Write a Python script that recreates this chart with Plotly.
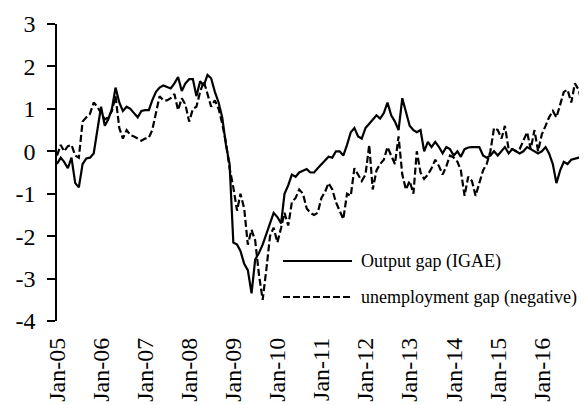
import pandas as pd
import plotly.graph_objects as go

months = pd.date_range("2005-01-01", periods=145, freq="MS")

output_gap = [
    -0.3, -0.15, -0.25, -0.4, -0.15, -0.75, -0.85, -0.3, -0.17, -0.15, -0.05, 0.45,
    1.05, 0.6, 0.75, 1.0, 1.5, 1.15, 0.95, 1.05, 1.0, 0.9, 0.8, 0.95,
    0.97, 0.97, 1.2, 1.4, 1.5, 1.55, 1.52, 1.48, 1.6, 1.75, 1.42, 1.6,
    1.7, 1.7, 1.3, 1.65, 1.55, 1.8, 1.72, 1.4, 1.15, 0.8, 0.15, -0.3,
    -2.15, -2.2, -2.35, -2.65, -2.8, -3.35, -2.55, -2.4, -2.2, -1.95, -1.7, -1.45,
    -1.55, -1.7, -1.0, -0.8, -0.55, -0.6, -0.5, -0.45, -0.42, -0.5, -0.5, -0.4,
    -0.3, -0.2, -0.13, -0.15, 0.0, 0.0, -0.1, 0.15, 0.45, 0.55, 0.35, 0.3,
    0.55, 0.65, 0.75, 0.85, 0.77, 0.9, 1.15, 0.85, 0.7, 0.5, 1.25, 0.9,
    0.6, 0.5, 0.45, 0.5, 0.0, 0.22, 0.1, 0.22, 0.1, -0.05, 0.1, 0.05,
    -0.1, 0.0, -0.13, 0.05, 0.09, 0.1, 0.1, 0.1, -0.1, -0.15, -0.1, 0.0,
    -0.1, 0.0, 0.1, -0.05, 0.05, 0.0, -0.05, 0.0, 0.1, 0.05, 0.0, -0.05,
    0.0, 0.1, -0.05, -0.3, -0.75, -0.45, -0.25, -0.3, -0.2, -0.18, -0.15, -0.12,
    -0.02,
]

unemployment_gap_neg = [
    -0.1, 0.15, 0.0, 0.12, 0.15, -0.1, -0.15, 0.7, 0.8, 0.88, 1.15, 1.05,
    0.9, 0.75, 0.8, 0.95, 1.3, 0.55, 0.3, 0.5, 0.38, 0.35, 0.3, 0.25,
    0.3, 0.32, 0.5, 0.95, 1.3, 1.2, 1.2, 1.25, 1.35, 0.97, 1.25, 1.1,
    0.7, 1.0, 1.05, 1.4, 1.65, 1.35, 1.05, 1.2, 1.0, 0.65, 0.2, -0.4,
    -0.85, -1.4, -1.0, -1.35, -2.2, -1.85, -2.1, -2.9, -3.5, -2.8, -2.0, -1.8,
    -2.15, -1.8, -1.45, -1.75, -1.2, -1.1, -0.9, -1.0, -1.35, -1.45, -1.5, -1.45,
    -1.1, -0.95, -0.75, -0.9, -1.2, -1.4, -1.6, -1.0, -1.05, -0.4, -0.55, -0.7,
    -0.55, 0.15, -0.9, -0.45, -0.3, -0.2, 0.1, -0.1, -0.3, 0.35, -0.55, -0.9,
    -0.7, -1.0, 0.0, -0.5, -0.65, -0.55, -0.4, -0.2, -0.35, -0.55, -0.35, -0.1,
    -0.15, -0.25, -0.45, -1.05, -0.6, -0.7, -1.05, -0.75, -0.45, -0.3, 0.0, 0.55,
    0.5, 0.3, 0.6, 0.05, 0.05, 0.0, 0.05, 0.25, 0.45, 0.05, 0.5, 0.0,
    0.4, 0.6, 0.8, 0.95, 0.8, 1.1, 1.4, 1.45, 1.15, 1.6, 1.45, 1.1,
    1.0,
]

y_tickvals = [3, 2, 1, 0, -1, -2, -3, -4]
y_ticktext = ["3", "2", "1", "0", "-1", "-2", "-3", "-4"]
series_names = ["Output gap (IGAE)", "unemployment gap (negative)"]

FONT = "Liberation Serif, Times New Roman, serif"
x_range = ["2005-01-01", "2017-01-01"]
y_range = [-4, 3]

fig = go.Figure()
fig.add_trace(go.Scatter(x=months, y=output_gap, mode="lines", name=series_names[0],
                         line=dict(color="black", width=2.2), showlegend=False))
fig.add_trace(go.Scatter(x=months, y=unemployment_gap_neg, mode="lines", name=series_names[1],
                         line=dict(color="black", width=2.2, dash="7px,3px"), showlegend=False))

# page body has an 8px default margin, so the figure is sized to fill the rest
fig.update_layout(
    width=579, height=397,
    margin=dict(l=49, r=1, t=16, b=84),
    paper_bgcolor="white", plot_bgcolor="white",
    font=dict(family=FONT, color="black", size=24),
    xaxis=dict(type="date", range=x_range, tick0="2005-01-01", dtick="M12",
               tickformat="%b-%y", tickangle=-90, showgrid=False, zeroline=False,
               showline=False, ticks="", ticklabelstandoff=11,
               tickfont=dict(family=FONT, size=24, color="black")),
    xaxis2=dict(type="date", range=x_range, overlaying="x", anchor="free",
                position=(0 - y_range[0]) / (y_range[1] - y_range[0]),
                tick0="2005-01-01", dtick="M12", showticklabels=False,
                showgrid=False, zeroline=False, showline=True,
                linecolor="#333333", linewidth=1.5, ticks="outside",
                ticklen=8, tickwidth=1.5, tickcolor="#333333"),
    yaxis=dict(range=y_range, tickvals=y_tickvals, ticktext=y_ticktext,
               showgrid=False, zeroline=False, showline=True, linecolor="black",
               linewidth=1.5, ticks="outside", ticklen=8, tickwidth=1.5,
               tickcolor="black", ticklabelstandoff=7,
               tickfont=dict(family=FONT, size=24, color="black")),
)

# manual legend
leg_x0, leg_x1, leg_tx = 0.4272, 0.5577, 0.572
leg_ys = [0.2020, 0.0808]
dashes = ["solid", "7px,3px"]
for name, ly, dsh in zip(series_names, leg_ys, dashes):
    fig.add_shape(type="line", xref="paper", yref="paper", x0=leg_x0, x1=leg_x1,
                  y0=ly, y1=ly, line=dict(color="black", width=2, dash=dsh))
    fig.add_annotation(xref="paper", yref="paper", x=leg_tx, y=ly, text=name,
                       showarrow=False, xanchor="left", yanchor="middle",
                       borderpad=0, font=dict(family=FONT, size=18, color="black"))

fig.write_html("out.html")
